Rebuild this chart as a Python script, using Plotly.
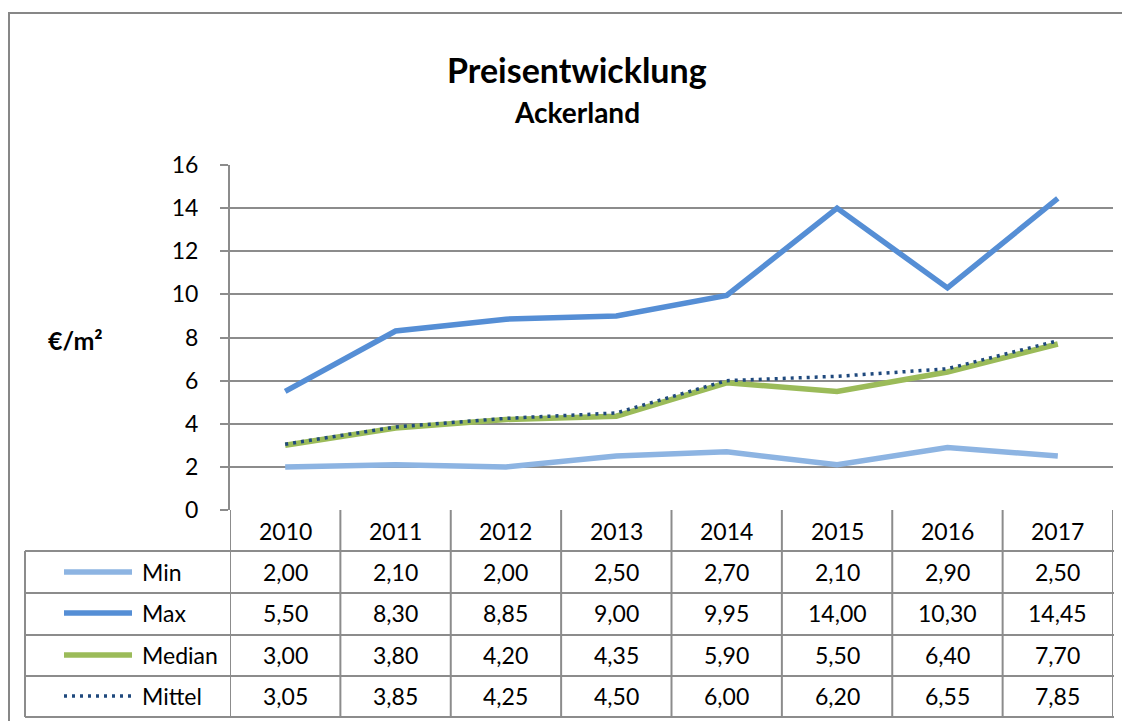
import plotly.graph_objects as go

years = ["2010", "2011", "2012", "2013", "2014", "2015", "2016", "2017"]
min_vals = [2.00, 2.10, 2.00, 2.50, 2.70, 2.10, 2.90, 2.50]
max_vals = [5.50, 8.30, 8.85, 9.00, 9.95, 14.00, 10.30, 14.45]
median_vals = [3.00, 3.80, 4.20, 4.35, 5.90, 5.50, 6.40, 7.70]
mittel_vals = [3.05, 3.85, 4.25, 4.50, 6.00, 6.20, 6.55, 7.85]

series = [
    ("Min", min_vals, "#8DB4E2", "solid", 5.5),
    ("Max", max_vals, "#558ED5", "solid", 5.5),
    ("Median", median_vals, "#9BBB59", "solid", 5.5),
    ("Mittel", mittel_vals, "#1F497D", "3px,5px", 3.5),
]

W, H = 1130, 721
OFF = 8  # page body margin
FONT = "Lato"
GRID = "#8C8C8C"
TXT = 23


def px(x):
    return (x - OFF) / W


def py(y):
    return 1 - (y - OFF) / H


def label(x, y, text, size, xref="paper", xanchor="center"):
    return dict(x=x, y=y, xref=xref, yref="paper", text=text, showarrow=False,
                xanchor=xanchor, yanchor="middle",
                font=dict(size=size, color="black", family=FONT))


xpos = list(range(len(years)))

fig = go.Figure()
for name, vals, color, dash, width in series:
    fig.add_trace(go.Scatter(
        x=xpos, y=vals, mode="lines", name=name,
        line=dict(color=color, width=width, dash=dash),
        showlegend=False,
    ))

shapes = []
annotations = []

# outer chart border (cropped on right/bottom)
shapes.append(dict(type="rect", xref="paper", yref="paper",
                   x0=px(9), x1=1.05, y0=-0.05, y1=py(13),
                   line=dict(color="#878787", width=2)))

# data table grid
row_lines = [551, 593, 635, 676, 717]
row_centers = [572, 613, 655, 696]
for y in row_lines:
    shapes.append(dict(type="line", xref="paper", yref="paper",
                       x0=px(25), x1=px(1114), y0=py(y), y1=py(y),
                       line=dict(color=GRID, width=2)))
shapes.append(dict(type="line", xref="paper", yref="paper",
                   x0=px(25), x1=px(25), y0=py(551), y1=py(717),
                   line=dict(color=GRID, width=2)))
for i in range(len(years) + 1):
    shapes.append(dict(type="line", xref="x", yref="paper",
                       x0=i - 0.5, x1=i - 0.5, y0=py(510), y1=py(717),
                       line=dict(color=GRID, width=2)))

# header (years)
for i, yr in enumerate(years):
    annotations.append(label(i, py(531), yr, TXT, xref="x"))

# series rows with legend keys
for (name, vals, color, dash, width), yc in zip(series, row_centers):
    shapes.append(dict(type="line", xref="paper", yref="paper",
                       x0=px(64), x1=px(132), y0=py(yc), y1=py(yc),
                       line=dict(color=color, width=width, dash=dash)))
    annotations.append(label(px(140), py(yc), name, TXT, xanchor="left"))
    for i, v in enumerate(vals):
        annotations.append(label(i, py(yc), f"{v:.2f}".replace(".", ","), TXT, xref="x"))

# titles
annotations.append(label(px(577), py(70), "<b>Preisentwicklung</b>", 34))
annotations.append(label(px(577), py(112), "<b>Ackerland</b>", 28))
annotations.append(label(px(75), py(340), "<b>€/m²</b>", 25))

fig.update_layout(
    width=W, height=H,
    margin=dict(l=0, r=0, t=0, b=0, pad=0),
    paper_bgcolor="white", plot_bgcolor="white",
    xaxis=dict(domain=[px(230), px(1113)], range=[-0.5, len(years) - 0.5],
               showticklabels=False, showgrid=False, zeroline=False,
               automargin=False, fixedrange=True),
    yaxis=dict(domain=[py(510), py(165)], range=[0, 16], dtick=2,
               showgrid=True, gridcolor=GRID, gridwidth=2,
               showline=True, linecolor=GRID, linewidth=2,
               ticks="outside", ticklen=8, tickcolor=GRID, tickwidth=2,
               zeroline=False, ticklabelstandoff=17, automargin=False,
               tickfont=dict(size=TXT, color="black", family=FONT)),
    shapes=shapes,
    annotations=annotations,
)

fig.write_html("out.html")
